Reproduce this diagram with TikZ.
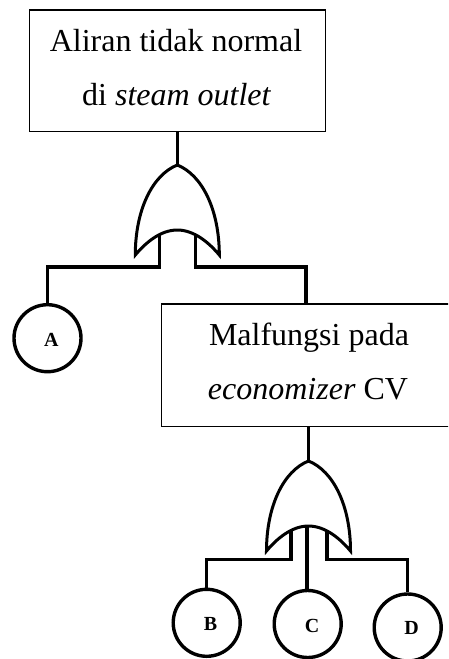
\documentclass[tikz,border=0pt]{standalone}
\usepackage{fontspec}
\setmainfont{Liberation Serif}
\usetikzlibrary{backgrounds}
\begin{document}
\begin{tikzpicture}[x=1pt,y=-1pt,
  box/.style={draw, line width=1.4pt, rectangle, inner sep=0pt},
  wire/.style={line width=3.2pt},
  gateline/.style={line width=3pt, fill=white},
  event/.style={circle, draw, line width=3.4pt, minimum size=67pt, inner sep=0pt},
  tag/.style={font=\fontsize{20}{20}\selectfont\bfseries, inner sep=0pt},
  txt/.style={font=\fontsize{32}{32}\selectfont, inner sep=0pt, anchor=base},
  orgate/.pic={
    \draw[gateline] (0,0) .. controls (-25,10) and (-42,45) .. (-42,90)
      .. controls (-32,78) and (-17,65) .. (0,65)
      .. controls (17,65) and (32,78) .. (42,90)
      .. controls (42,45) and (25,10) .. (0,0) -- cycle;
    \coordinate (-out) at (0,0);
    \coordinate (-l) at (-17.5,60);
    \coordinate (-m) at (-1.5,60);
    \coordinate (-r) at (18.5,60);
  }]
\useasboundingbox (0,0) rectangle (448,659);
\clip (0,0) rectangle (448,659);

% event boxes
\node[box, minimum width=296pt, minimum height=121.7pt] (top) at (177.3,70.85) {};
\node[txt] (topa) at (176,51) {Aliran tidak normal};
\node[txt] (topb) at (176.7,105) {di \textit{steam outlet}};

\node[box, minimum width=308.3pt, minimum height=122.3pt] (mid) at (315.85,365.15) {};
\node[txt] (mida) at (309,345) {Malfungsi pada};
\node[txt] (midb) at (308,399) {\textit{economizer} CV};
\coordinate (midin) at (306,304);

% basic events
\node[event] (A) at (47.5,338.2) {};
\node[tag] (Al) at (51.3,339.5) {A};
\node[event] (B) at (206.7,622.8) {};
\node[tag] (Bl) at (210.5,624.2) {B};
\node[event] (C) at (307.7,624) {};
\node[tag] (Cl) at (312.2,625.5) {C};
\node[event] (D) at (407.7,627.5) {};
\node[tag] (Dl) at (411.7,627.5) {D};

% OR gates
\pic (g1) at (177.3,165) {orgate};
\pic (g2) at (308.5,461) {orgate};

\coordinate (bus1) at (0,267);
\coordinate (bus2) at (0,559.3);

% connectors (behind the gates)
\begin{scope}[on background layer]
  \draw[wire] (top.south) -- (g1-out);
  \draw[wire] (g1-l) -- (g1-l |- bus1) -| (A.north);
  \draw[wire] (g1-r) -- (g1-r |- bus1) -| (midin);
  \draw[wire] (g2-out |- mid.south) -- (g2-out);
  \draw[wire] (g2-l) -- (g2-l |- bus2) -| (B.north);
  \draw[wire] (g2-m) -- (g2-m |- C.north);
  \draw[wire] (g2-r) -- (g2-r |- bus2) -| (D.north);
\end{scope}
\end{tikzpicture}
\end{document}
